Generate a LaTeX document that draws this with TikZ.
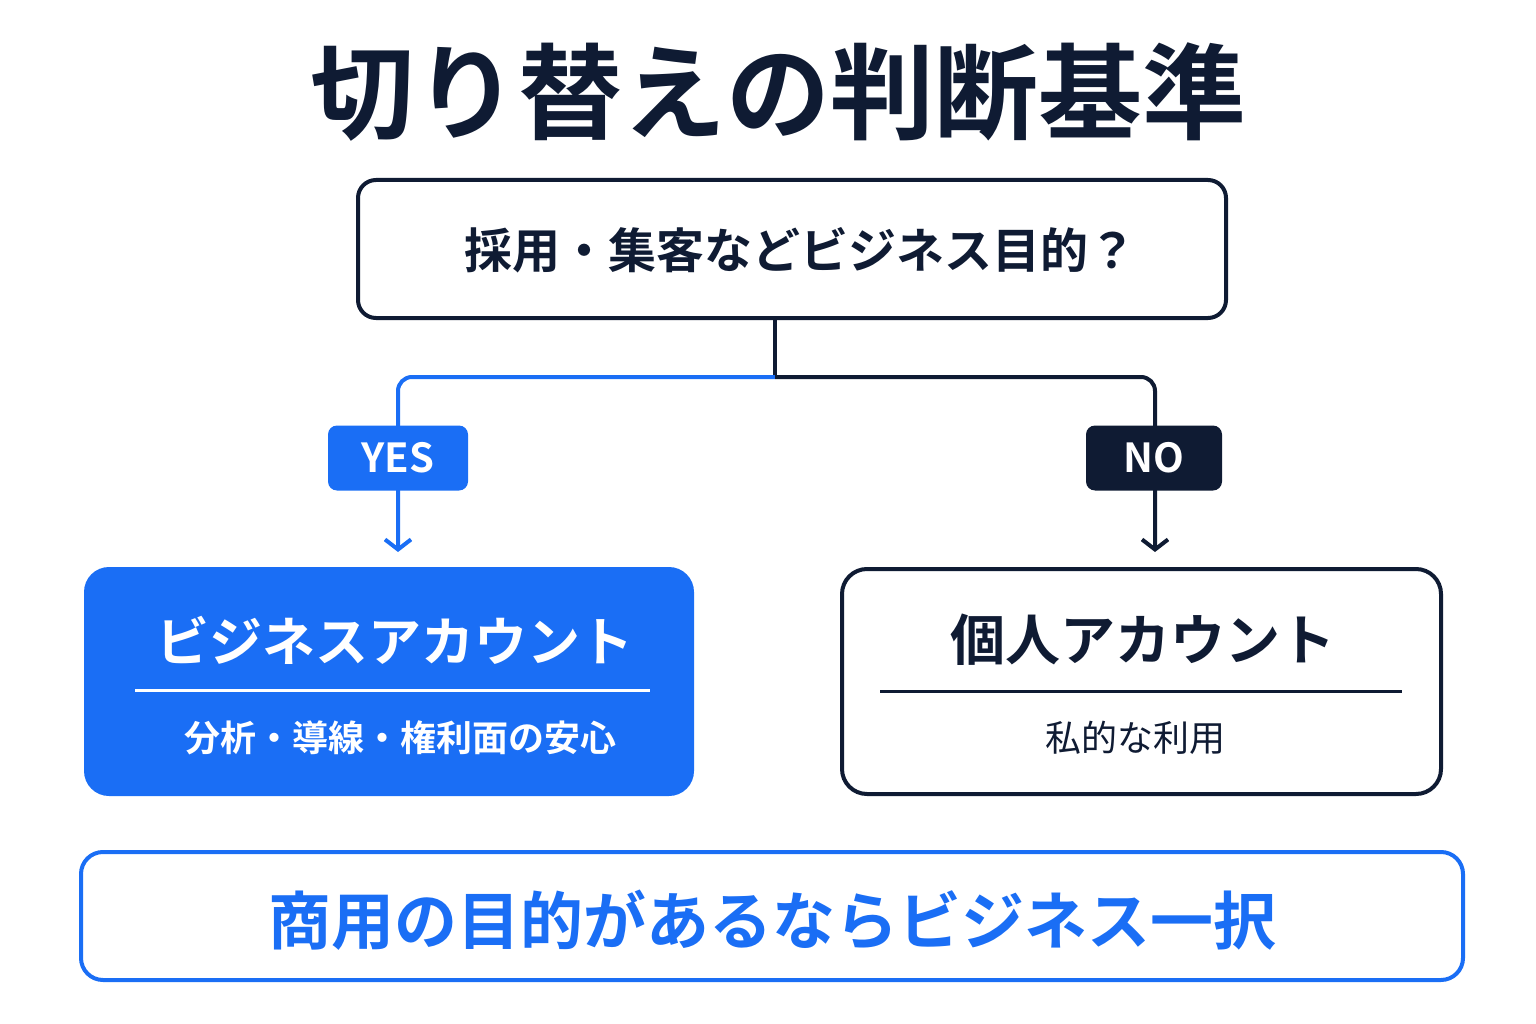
\documentclass[tikz,border=0pt]{standalone}
\usepackage{fontspec}
\setmainfont{Noto Sans CJK JP}[BoldFont={* Bold}]
\newfontfamily\jpb{Noto Sans CJK JP Bold}
\usetikzlibrary{arrows.meta}
\definecolor{navy}{HTML}{0F1B33}
\definecolor{blu}{HTML}{1A6EF5}
\begin{document}
\begin{tikzpicture}[x=1pt,y=-1pt,
  box/.style={draw=navy,line width=4pt,rounded corners=18pt,fill=white},
  conn/.style={line width=4pt,rounded corners=14pt},
  arr/.style={-{Straight Barb[length=10pt,width=26pt,line width=4pt]}},
  tag/.style={rounded corners=9pt,text=white,font=\jpb\fontsize{40}{40}\selectfont,minimum width=140pt,minimum height=65pt}]
\useasboundingbox (0,0) rectangle (1536,1024);
\node (title) at (778,92) {\jpb\fontsize{104}{104}\selectfont\textcolor{navy}{切り替えの判断基準}};
\draw[box] (358,180) rectangle (1226,318);
\node (q) at (800,250) {\jpb\fontsize{48}{48}\selectfont\textcolor{navy}{採用・集客などビジネス目的？}};
\coordinate (t) at (775,318);
\coordinate (j) at (775,377);
\draw[conn,navy] (t) -- (j);
\draw[conn,blu,arr] (j) -- (398,377) -- (398,552);
\draw[conn,navy,arr] (j) -- (1155,377) -- (1155,552);
\node[tag,fill=blu] (yes) at (398,458) {YES};
\node[tag,fill=navy,minimum width=136pt] (no) at (1154,458) {NO};
\fill[blu,rounded corners=25pt] (84,567) rectangle (694,796);
\node (bt) at (395,640) {\jpb\fontsize{53}{53}\selectfont\textcolor{white}{ビジネスアカウント}};
\draw[white,line width=3pt] (135,690) -- (650,690);
\node (bs) at (400,738) {\jpb\fontsize{36}{36}\selectfont\textcolor{white}{分析・導線・権利面の安心}};
\draw[box,rounded corners=25pt] (842,569) rectangle (1441,794);
\node (pt) at (1143,640) {\jpb\fontsize{55}{55}\selectfont\textcolor{navy}{個人アカウント}};
\draw[navy,line width=3pt] (880,691) -- (1402,691);
\node (ps) at (1135,738) {\fontsize{36}{36}\selectfont\textcolor{navy}{私的な利用}};
\draw[blu,line width=4pt,rounded corners=22pt] (81,852) rectangle (1463,980);
\node (bottom) at (772,920) {\jpb\fontsize{63}{63}\selectfont\textcolor{blu}{商用の目的があるならビジネス一択}};
\end{tikzpicture}
\end{document}
